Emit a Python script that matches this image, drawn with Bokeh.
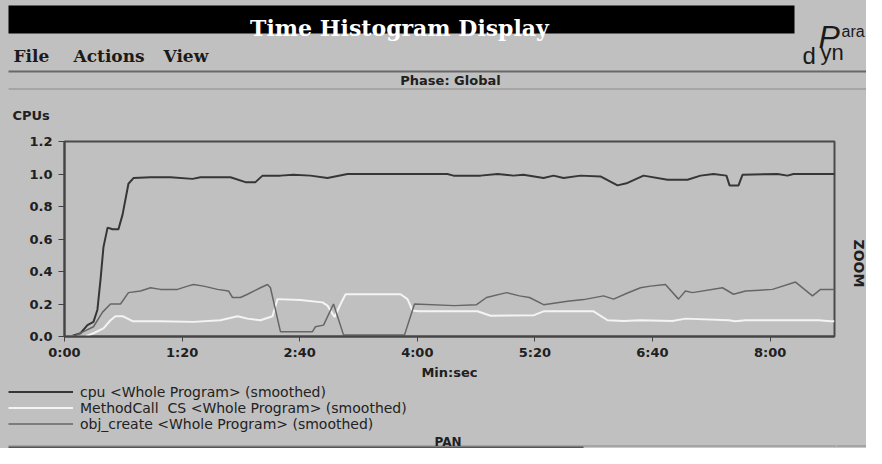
import math
from bokeh.plotting import figure
from bokeh.models import Range1d, FixedTicker, Legend, LegendItem, GridBox
from bokeh.core.properties import value
from bokeh.embed import file_html
from bokeh.resources import INLINE

# ---- data (time in seconds, values in CPUs) ----
cpu_t = [0, 4.1, 10.9, 15.6, 19.7, 22.4, 24.5, 26.5, 29.3, 32.7, 36.7, 39.5, 43.5, 46.9, 58.5,
         72.1, 87.1, 92.5, 112.9, 123.1, 129.9, 134.7, 146.9, 155.8, 167.3, 178.9, 192.5,
         260.5, 264.6, 283.0, 294.6, 305.4, 312.2, 325.9, 332.7, 339.5, 351.0, 364.6, 376.2,
         383.0, 393.9, 410.2, 423.8, 432.7, 441.5, 450.3, 452.4, 458.5, 461.2, 485.0, 491.8,
         495.9, 523.8]
cpu_v = [0.0, 0.0, 0.02, 0.07, 0.09, 0.165, 0.35, 0.55, 0.67, 0.66, 0.66, 0.75, 0.94, 0.975, 0.98,
         0.98, 0.97, 0.98, 0.98, 0.95, 0.95, 0.99, 0.99, 0.995, 0.99, 0.975, 1.0,
         1.0, 0.99, 0.99, 1.0, 0.99, 0.995, 0.975, 0.99, 0.975, 0.99, 0.985, 0.93,
         0.945, 0.99, 0.965, 0.965, 0.99, 1.0, 0.99, 0.93, 0.93, 0.995, 1.0, 0.99,
         1.0, 1.0]

mc_t = [0, 14.3, 19.7, 26.5, 31.3, 34.7, 39.5, 46.3, 65.3, 87.8, 106.1, 117.7, 124.5, 133.3,
        141.5, 144.9, 160.5, 175.5, 178.9, 183.7, 187.8, 191.2, 228.6, 233.3, 236.7, 240.8,
        280.9, 289.8, 319.0, 325.9, 359.9, 369.4, 380.3, 391.8, 413.6, 422.4, 451.7, 456.5,
        463.3, 513.0, 521.1, 523.8]
mc_v = [0, 0.0, 0.02, 0.05, 0.1, 0.125, 0.125, 0.094, 0.094, 0.09, 0.1, 0.125, 0.11, 0.1,
        0.125, 0.23, 0.225, 0.21, 0.19, 0.12, 0.2, 0.26, 0.26, 0.23, 0.16, 0.155,
        0.155, 0.128, 0.13, 0.155, 0.155, 0.1, 0.095, 0.1, 0.095, 0.11, 0.1, 0.094,
        0.1, 0.1, 0.094, 0.094]

obj_t = [0, 6.1, 12.9, 19.7, 25.9, 31.3, 38.1, 43.5, 51.7, 58.5, 65.3, 76.9, 83.7, 87.8, 94.6,
         104.1, 111.6, 114.3, 119.7, 124.5, 133.3, 138.1, 140.1, 146.9, 168.7, 170.7, 176.2,
         183.0, 189.8, 231.3, 238.1, 265.3, 280.3, 287.1, 300.7, 309.5, 316.3, 325.9, 342.2,
         353.1, 366.7, 373.5, 383.0, 391.8, 398.6, 408.8, 417.7, 422.4, 427.2, 447.6, 455.1,
         463.3, 481.6, 497.3, 508.8, 514.3, 523.8]
obj_v = [0, 0.0, 0.03, 0.06, 0.15, 0.2, 0.2, 0.27, 0.28, 0.3, 0.29, 0.29, 0.31, 0.32, 0.31,
         0.29, 0.28, 0.24, 0.24, 0.26, 0.3, 0.32, 0.3, 0.03, 0.03, 0.06, 0.07,
         0.2, 0.01, 0.01, 0.2, 0.19, 0.196, 0.24, 0.27, 0.25, 0.24, 0.196, 0.217,
         0.227, 0.25, 0.23, 0.268, 0.3, 0.31, 0.32, 0.23, 0.28, 0.27, 0.3, 0.26,
         0.28, 0.29, 0.335, 0.25, 0.29, 0.29]

series_labels = ["cpu <Whole Program> (smoothed)",
                 "MethodCall  CS <Whole Program> (smoothed)",
                 "obj_create <Whole Program> (smoothed)"]
series_colors = ["#363636", "#f4f4f4", "#666666"]
series_widths = [2, 2, 1.5]

x_ticks = [0, 80, 160, 240, 320, 400, 480]
x_tick_labels = ["0:00", "1:20", "2:40", "4:00", "5:20", "6:40", "8:00"]
y_ticks = [0.0, 0.2, 0.4, 0.6, 0.8, 1.0, 1.2]
y_tick_labels = ["0.0", "0.2", "0.4", "0.6", "0.8", "1.0", "1.2"]

BG = "#c0c0c0"
AX = "#444444"


def canvas(x0, x1, y0, y1):
    """A plain panel whose frame fills it; coordinates are window pixels (y downward)."""
    f = figure(width=x1 - x0, height=y1 - y0, output_backend="svg", toolbar_location=None,
               x_range=Range1d(x0, x1), y_range=Range1d(y1, y0),
               x_axis_type=None, y_axis_type=None, min_border=0, frame_align=False)
    f.background_fill_color = BG
    f.border_fill_color = BG
    f.outline_line_color = None
    return f


def box(f, l, t, r, b, color):
    f.quad(left=[l], right=[r], top=[t], bottom=[b], fill_color=color, line_color=None)


def txt(f, text, x, y, size, font="DejaVu Sans", style="bold", color="#202020",
        align="left", baseline="alphabetic", angle=0.0):
    f.text(x=[x], y=[y], text=[text], text_font=value(font), text_font_size=value(f"{size}px"),
           text_font_style=value(style), text_color=color, text_align=align,
           text_baseline=baseline, angle=angle)


# ---- header: title bar, menu, phase line ----
head = canvas(0, 866, 0, 128)
box(head, 8, 5, 794, 33, "#000000")
box(head, 8, 70, 866, 72, "#686868")
box(head, 8, 88, 866, 89, "#8a8a8a")
txt(head, "Time Histogram Display", 399, 27.5, 22, font="DejaVu Serif", color="#ffffff", align="center")
txt(head, "File", 13, 55, 17, font="DejaVu Serif", color="#1a1a1a")
txt(head, "Actions", 73, 55, 17, font="DejaVu Serif", color="#1a1a1a")
txt(head, "View", 163, 55, 17, font="DejaVu Serif", color="#1a1a1a")
txt(head, "P", 818, 36, 32, font="Liberation Sans", style="italic", color="#1a1a1a")
txt(head, "ara", 841, 31, 16, font="Liberation Sans", style="normal", color="#1a1a1a")
txt(head, "d", 802, 55, 24, font="Liberation Sans", style="normal", color="#1a1a1a")
txt(head, "yn", 820, 52, 22, font="Liberation Sans", style="normal", color="#1a1a1a")
txt(head, "Phase: Global", 450, 80, 13, align="center", baseline="middle")
txt(head, "CPUs", 12, 115, 13, baseline="middle")

# ---- main chart ----
p = figure(width=836, height=254, output_backend="svg", toolbar_location=None,
           x_range=Range1d(0, 523.8), y_range=Range1d(0, 1.2), frame_align=False,
           min_border_left=64, min_border_right=2, min_border_top=13, min_border_bottom=45)
p.background_fill_color = BG
p.border_fill_color = BG
p.outline_line_color = "#4a4a4a"
p.outline_line_width = 2
p.xgrid.visible = False
p.ygrid.visible = False

for ax in (p.xaxis[0], p.yaxis[0]):
    ax.axis_line_color = AX
    ax.axis_line_width = 2
    ax.major_tick_line_color = AX
    ax.major_tick_line_width = 1
    ax.major_tick_in = 0
    ax.minor_tick_line_color = None
    ax.major_label_text_font = "DejaVu Sans"
    ax.major_label_text_font_style = "bold"
    ax.major_label_text_font_size = "13px"
    ax.major_label_text_color = "#202020"

p.xaxis.ticker = FixedTicker(ticks=x_ticks)
p.xaxis.major_label_overrides = dict(zip(x_ticks, x_tick_labels))
p.xaxis.major_tick_out = 5
p.xaxis.major_label_standoff = 3
p.xaxis.axis_label = "Min:sec"
p.xaxis.axis_label_text_font = "DejaVu Sans"
p.xaxis.axis_label_text_font_style = "bold"
p.xaxis.axis_label_text_font_size = "13px"
p.xaxis.axis_label_text_color = "#202020"
p.xaxis.axis_label_standoff = 2

p.yaxis.ticker = FixedTicker(ticks=y_ticks)
p.yaxis.major_label_overrides = dict(zip(y_ticks, y_tick_labels))
p.yaxis.major_tick_out = 6
p.yaxis.major_label_standoff = 6

p.line(cpu_t, cpu_v, line_color=series_colors[0], line_width=series_widths[0])
p.line(mc_t, mc_v, line_color=series_colors[1], line_width=series_widths[1])
p.line(obj_t, obj_v, line_color=series_colors[2], line_width=series_widths[2])

# ---- footer: legend, PAN scrollbar ----
foot = canvas(0, 836, 382, 448)
box(foot, 8, 445, 836, 446, "#888888")
box(foot, 8, 446, 583, 448, "#555555")
box(foot, 585, 447, 836, 448, "#cdcdcd")
txt(foot, "PAN", 434, 441, 12)
# legend keys: same series, drawn in the footer panel (their values lie outside its visible range)
keys = [foot.line(x=xs, y=ys, line_color=c, line_width=w)
        for xs, ys, c, w in zip([cpu_t, mc_t, obj_t], [cpu_v, mc_v, obj_v], series_colors, series_widths)]
legend = Legend(items=[LegendItem(label=lab, renderers=[r]) for lab, r in zip(series_labels, keys)],
                location=(8, 16.5), orientation="vertical",
                glyph_width=65, glyph_height=15, label_height=15, label_standoff=7,
                spacing=-1, padding=0, margin=0,
                background_fill_alpha=0, border_line_alpha=0,
                label_text_font="DejaVu Sans", label_text_font_size="14px",
                label_text_color="#222222")
foot.add_layout(legend)

# ---- right strip: ZOOM ----
strip = canvas(836, 866, 128, 448)
box(strip, 836, 445, 866, 446, "#888888")
box(strip, 836, 447, 866, 448, "#cdcdcd")
txt(strip, "ZOOM", 858, 263, 14, align="center", baseline="middle", angle=-math.pi / 2)

layout = GridBox(children=[(head, 0, 0, 1, 2), (p, 1, 0), (strip, 1, 1, 2, 1), (foot, 2, 0)],
                 spacing=0, styles={"background-color": BG})

open("out.html", "w").write(file_html(layout, INLINE))
